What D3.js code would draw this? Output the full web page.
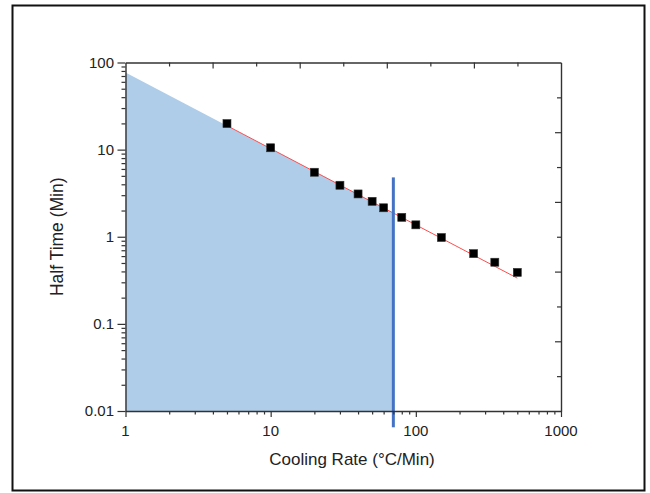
<!DOCTYPE html>
<html>
<head>
<meta charset="utf-8">
<script src="https://cdn.jsdelivr.net/npm/d3@7"></script>
<style>
  html, body { margin: 0; padding: 0; background: #fff; }
  svg { display: block; font-family: "Liberation Sans", Arial, sans-serif; }
</style>
</head>
<body>
<svg id="chart" width="650" height="493"></svg>
<script>
// Measured half crystallisation time versus cooling rate
const coolingRates = [5, 10, 20, 30, 40, 50, 60, 80, 100, 150, 250, 350, 500];
const halfTimes = [19.9, 10.5, 5.5, 3.9, 3.1, 2.55, 2.15, 1.67, 1.37, 0.98, 0.64, 0.51, 0.39];

// Power-law fit  t = A * rate^B
const fitA = 77;
const fitB = -0.875;
const fitRange = [5, 500];      // extent of the drawn fit line
const shadeRange = [1, 70];     // shaded region below the fit
const cutoffRate = 70;          // vertical marker
const cutoffSpan = [0.0065, 4.8];

const xDomain = [1, 1000];
const yDomain = [0.01, 100];
const xTickLabels = [1, 10, 100, 1000];
const yTickLabels = [0.01, 0.1, 1, 10, 100];

const svg = d3.select("#chart");
const W = 650, H = 493;
const m = { left: 125.5, right: 561, top: 62.5, bottom: 411 };

svg.append("rect").attr("width", W).attr("height", H).attr("fill", "#fff");
svg.append("rect")
  .attr("x", 12.5).attr("y", 5.5).attr("width", 632).attr("height", 485)
  .attr("fill", "none").attr("stroke", "#111").attr("stroke-width", 2);

const x = d3.scaleLog().domain(xDomain).range([m.left, m.right]);
const y = d3.scaleLog().domain(yDomain).range([m.bottom, m.top]);
const fit = r => fitA * Math.pow(r, fitB);

// shaded area below the fit, up to the cutoff
const shade = [
  [shadeRange[0], yDomain[0]],
  [shadeRange[0], fit(shadeRange[0])],
  [shadeRange[1], fit(shadeRange[1])],
  [shadeRange[1], yDomain[0]]
];
svg.append("path")
  .attr("d", d3.line().x(d => x(d[0])).y(d => y(d[1]))(shade) + "Z")
  .attr("fill", "#afcde9");

// fit line
svg.append("path")
  .attr("d", d3.line().x(d => x(d)).y(d => y(fit(d)))(fitRange))
  .attr("fill", "none").attr("stroke", "#ff4d4d").attr("stroke-width", 1);

// vertical cutoff marker
svg.append("line")
  .attr("x1", x(cutoffRate)).attr("x2", x(cutoffRate))
  .attr("y1", y(cutoffSpan[1])).attr("y2", y(cutoffSpan[0]))
  .attr("stroke", "#4472c4").attr("stroke-width", 3);

// data points
const s = 8;
svg.append("g").selectAll("rect")
  .data(coolingRates.map((r, i) => [r, halfTimes[i]]))
  .join("rect")
  .attr("x", d => x(d[0]) - s / 2).attr("y", d => y(d[1]) - s / 2)
  .attr("width", s).attr("height", s)
  .attr("fill", "#000").attr("stroke", "#333").attr("stroke-width", 0.6);

// axes
const axisColor = "#333";
const fontSize = 15;
function minorLog(domain) {
  const out = [];
  for (let e = Math.log10(domain[0]); e < Math.log10(domain[1]); e++) {
    for (let k = 1; k <= 9; k++) out.push(k * Math.pow(10, e));
  }
  out.push(domain[1]);
  return out;
}
const isMajor = v => Math.abs(Math.log10(v) - Math.round(Math.log10(v))) < 1e-9;

// bottom axis
const gx = svg.append("g").attr("transform", `translate(0,${m.bottom})`)
  .call(d3.axisBottom(x).tickValues(minorLog(xDomain)).tickFormat("").tickSizeOuter(0));
gx.selectAll(".tick line").attr("y2", d => isMajor(d) ? 6 : 3.5);
gx.append("g").selectAll("text").data(xTickLabels).join("text")
  .attr("x", d => x(d)).attr("y", 24.5)
  .attr("text-anchor", "middle")
  .attr("fill", "#222").attr("font-size", fontSize).text(d => d);

// left axis
const gy = svg.append("g").attr("transform", `translate(${m.left},0)`)
  .call(d3.axisLeft(y).tickValues(minorLog(yDomain)).tickFormat("").tickSizeOuter(0));
gy.selectAll(".tick line").attr("x2", d => isMajor(d) ? -8 : -4);
gy.append("g").selectAll("text").data(yTickLabels).join("text")
  .attr("x", -11.5).attr("y", d => y(d) + 5.3)
  .attr("text-anchor", "end")
  .attr("fill", "#222").attr("font-size", fontSize).text(d => d);

// mirrored top and right frame axes with evenly spaced inward ticks
const topScale = d3.scaleLinear().domain([0, 10]).range([m.left, m.right]);
const rightScale = d3.scaleLinear().domain([0, 10]).range([m.top, m.bottom]);
const inner = d3.range(1, 10);
const gt = svg.append("g").attr("transform", `translate(0,${m.top})`)
  .call(d3.axisTop(topScale).tickValues(inner).tickFormat("").tickSizeOuter(0));
gt.selectAll(".tick line").attr("y2", d => d % 2 === 0 ? 6 : 4);
const gr = svg.append("g").attr("transform", `translate(${m.right},0)`)
  .call(d3.axisRight(rightScale).tickValues(inner).tickFormat("").tickSizeOuter(0));
gr.selectAll(".tick line").attr("x2", d => d % 2 === 0 ? -6 : -4);

[gx, gy, gt, gr].forEach(g => {
  g.select(".domain").attr("stroke", axisColor).attr("stroke-width", 1.4);
  g.selectAll(".tick line").attr("stroke", axisColor).attr("stroke-width", 1.2);
});

// axis titles
svg.append("text")
  .attr("x", 352).attr("y", 464.5)
  .attr("text-anchor", "middle")
  .attr("font-size", 17).attr("fill", "#222").text("Cooling Rate (°C/Min)");
svg.append("text")
  .attr("transform", `translate(63,${(m.top + m.bottom) / 2}) rotate(-90)`)
  .attr("text-anchor", "middle")
  .attr("font-size", 17.5).attr("fill", "#222").text("Half Time (Min)");
</script>
</body>
</html>
